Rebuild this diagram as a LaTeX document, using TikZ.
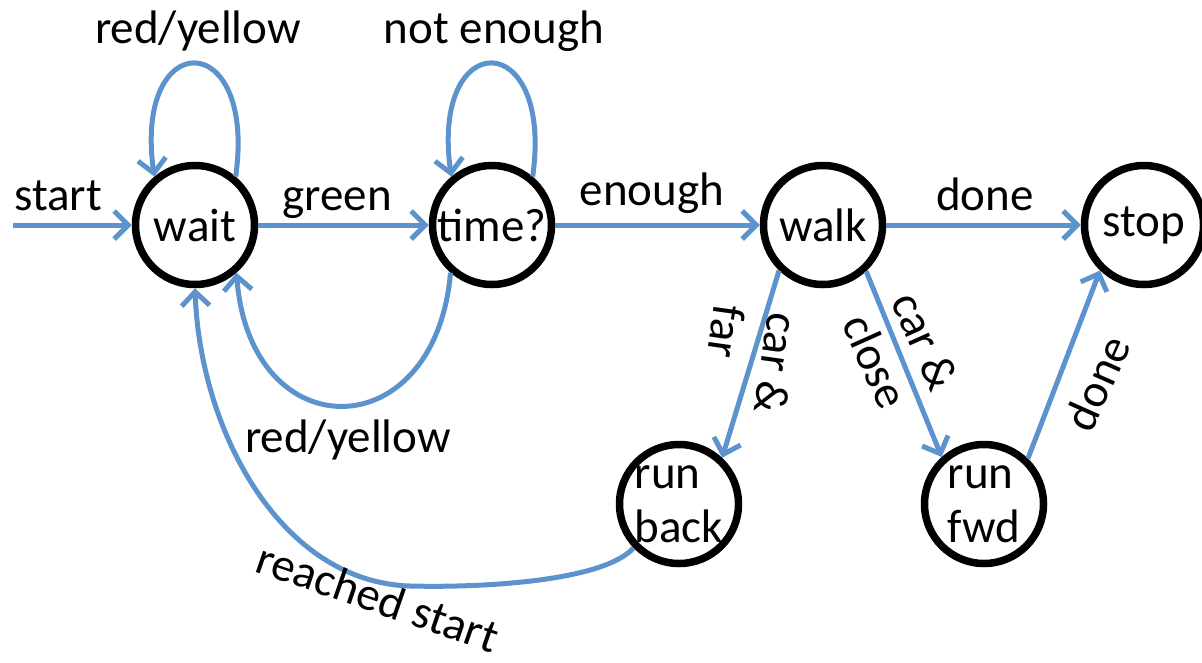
\documentclass[tikz,border=0pt]{standalone}
\usepackage{fontspec}
\setmainfont{Carlito}
\usetikzlibrary{arrows.meta}
\definecolor{edgeblue}{RGB}{92,147,205}
\begin{document}
\begin{tikzpicture}[x=1pt,y=-1pt,
  state/.style={circle,draw=black,line width=7.5pt,fill=white,minimum size=119pt,inner sep=0pt,font=\fontsize{47}{54}\selectfont},
  edge/.style={draw=edgeblue,line width=5pt,-{Straight Barb[length=14pt,width=28pt]}},
  lbl/.style={inner sep=0pt,font=\fontsize{47}{54}\selectfont}]
\useasboundingbox (0,0) rectangle (1202,662);
\node[state] (wait) at (195,225) {wait};
\node[state] (time) at (492,225) {time?};
\node[state] (walk) at (823,225) {walk};
\node[state] (stop) at (1144,225) {stop};
\node[state,align=left] (runback) at (679,504) {run\\back};
\node[state,align=left] (runfwd) at (984,504) {run\\fwd};
\coordinate (start) at (13,225);

\draw[edge] (start) -- (wait);
\draw[edge] (wait) -- (time);
\draw[edge] (time) -- (walk);
\draw[edge] (walk) -- (stop);
\draw[edge] (wait.50) .. controls (257,26) and (133,26) .. (wait.130);
\draw[edge] (time.50) .. controls (554,26) and (430,26) .. (time.130);
\draw[edge] (time.-131) .. controls (435,450) and (250,450) .. (wait.-49);
\draw[edge] (runback.-136) .. controls (605,580) and (490,588) .. (410,586) .. controls (280,582) and (200,430) .. (wait.-90);
\draw[edge] (walk.-134) -- (runback.47);
\draw[edge] (walk.-47) -- (runfwd.132);
\draw[edge] (runfwd.46) -- (stop.-134);

\node[lbl,anchor=base] (lstart) at (58,210) {start};
\node[lbl,anchor=base] (lgreen) at (337,210) {green};
\node[lbl,anchor=base] (lenough) at (652,205) {enough};
\node[lbl,anchor=base] (ldone) at (985,210) {done};
\node[lbl,anchor=base] (lwaitloop) at (198,43) {red/yellow};
\node[lbl,anchor=base] (ltimeloop) at (494,43) {not enough};
\node[lbl,anchor=base] (lback) at (348,452) {red/yellow};
\node[lbl,rotate=-19] (lreach) at (378,597) {reached start};
\node[lbl,rotate=-98,align=left] (lfar) at (750,360) {car \&\\far};
\node[lbl,rotate=-66,align=left] (lclose) at (901,352) {car \&\\close};
\node[lbl,rotate=66] (ldone2) at (1097,383) {done};
\end{tikzpicture}
\end{document}
